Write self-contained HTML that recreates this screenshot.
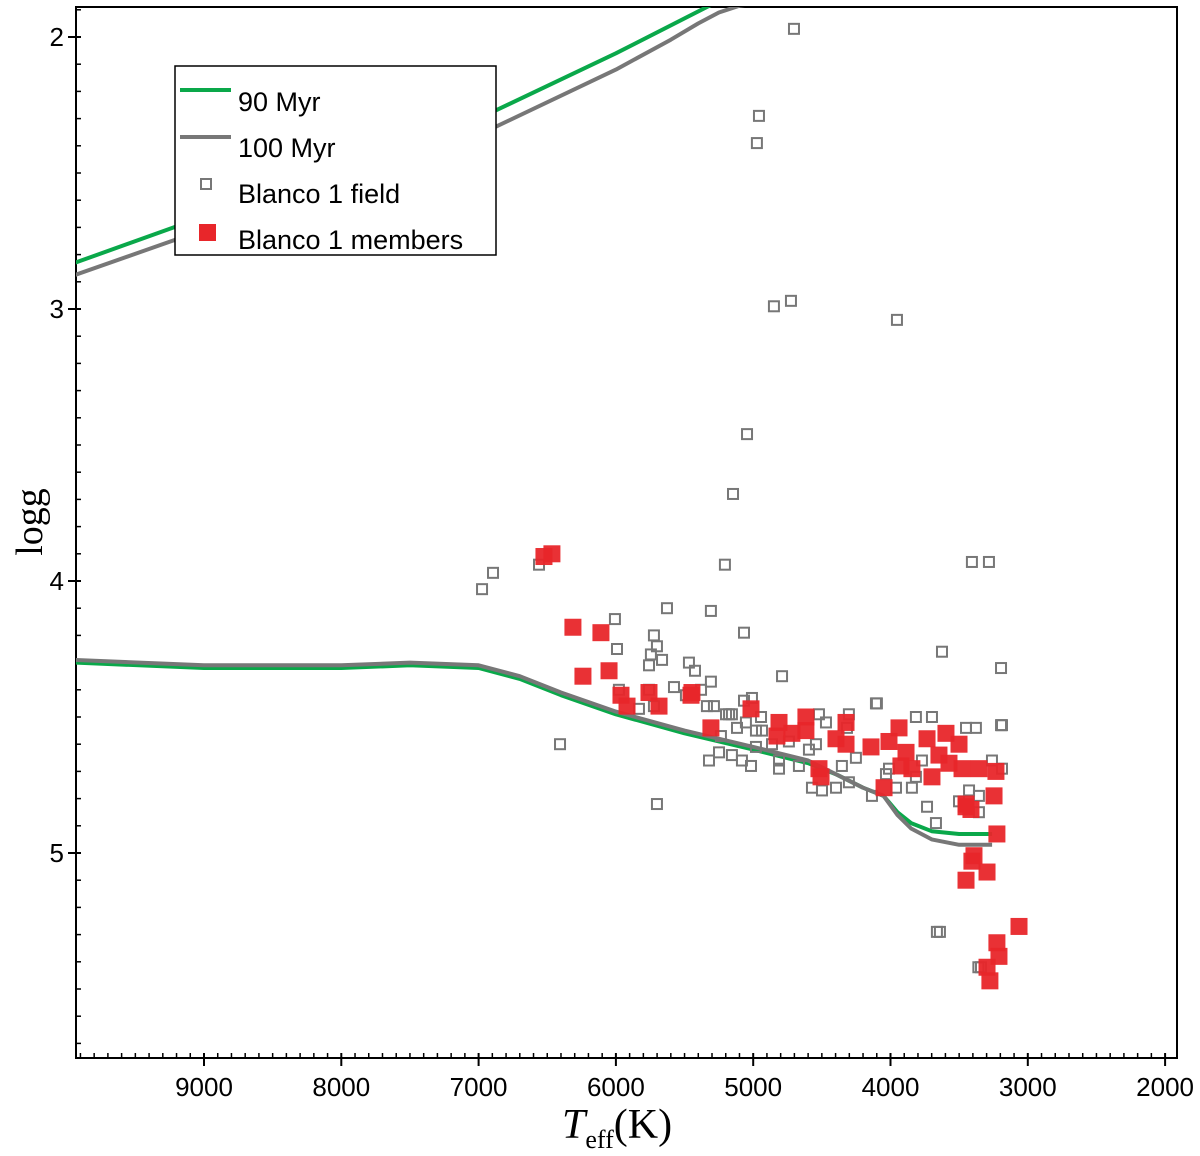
<!DOCTYPE html>
<html><head><meta charset="utf-8"><style>
html,body{margin:0;padding:0;background:#fff;}
svg{display:block;}
text{font-family:"Liberation Sans",Arial,sans-serif;}
</style></head><body>
<svg id="chart" width="1200" height="1156" viewBox="0 0 1200 1156" xmlns="http://www.w3.org/2000/svg">
<defs><clipPath id="plotclip"><rect x="76" y="7" width="1101" height="1051"/></clipPath></defs>
<rect x="76" y="7" width="1101" height="1051" fill="#fff" stroke="#000" stroke-width="2"/>
<g id="axes"></g>
<g id="curves" clip-path="url(#plotclip)"></g>
<g id="fieldpts" clip-path="url(#plotclip)"></g>
<g id="memberpts" clip-path="url(#plotclip)"></g>
<text transform="translate(42,522) rotate(-90)" text-anchor="middle" font-size="38" style="font-family:'Liberation Serif',serif">logg</text>
<text x="562" y="1138" font-size="42" style="font-family:'Liberation Serif',serif"><tspan font-style="italic">T</tspan><tspan font-size="26" dy="10">eff</tspan><tspan dy="-10">(K)</tspan></text>
<g>
<rect x="175" y="66" width="321" height="189" fill="#fff" stroke="#000" stroke-width="1.5"/>
<line x1="180" y1="90" x2="231" y2="90" stroke="#0aa84a" stroke-width="4"/>
<text x="238" y="111" font-size="27">90 Myr</text>
<line x1="180" y1="137" x2="231" y2="137" stroke="#777" stroke-width="4"/>
<text x="238" y="157" font-size="27">100 Myr</text>
<rect x="201" y="179" width="10" height="10" fill="none" stroke="#777" stroke-width="2"/>
<text x="238" y="203" font-size="27">Blanco 1 field</text>
<rect x="199" y="224" width="17" height="17" fill="#e8262a"/>
<text x="238" y="249" font-size="27">Blanco 1 members</text>
</g>
</svg>
<script>
const xTicks=[9000,8000,7000,6000,5000,4000,3000,2000];
const yTicks=[2,3,4,5];
// isochrones [Teff, logg]
const iso90Upper=[[9940,2.83],[8500,2.57],[7000,2.30],[6000,2.06],[5300,1.88],[5100,1.84]];
const iso100Upper=[[9940,2.875],[8500,2.62],[7000,2.36],[6000,2.12],[5600,2.01],[5400,1.95],[5250,1.91],[5100,1.885],[4950,1.875],[4800,1.87]];
const iso100Lower=[[9940,4.29],[9000,4.31],[8000,4.31],[7500,4.30],[7000,4.31],[6700,4.35],[6400,4.41],[6000,4.48],[5500,4.55],[5000,4.61],[4600,4.66],[4400,4.71],[4200,4.76],[4050,4.79],[3950,4.86],[3850,4.91],[3700,4.95],[3500,4.97],[3260,4.97]];
const iso90Lower=[[9940,4.30],[9000,4.32],[8000,4.32],[7500,4.31],[7000,4.32],[6700,4.36],[6400,4.42],[6000,4.49],[5500,4.56],[5000,4.62],[4600,4.67],[4400,4.71],[4200,4.76],[4050,4.79],[3950,4.85],[3850,4.89],[3700,4.92],[3500,4.93],[3260,4.93]];
const fieldT=[4703,4958,4973,4849,4725,3953,5045,5147,5206,6975,6895,6560,3407,3283,6407,5701,3662,3341,3625,3195,3195,6007,5628,5308,5067,5723,5701,5745,5759,5664,5992,5468,5424,5577,5380,5308,4790,4099,5759,5723,5832,5978,3188,5490,5337,5286,5176,5067,5009,5198,5155,5118,5053,4943,4980,4936,5249,5155,5082,5016,4980,4812,4812,4667,4863,4740,4594,4543,4521,4470,4303,4317,4572,4499,4397,4303,4354,4252,4106,4033,3960,3844,3815,3698,3450,3378,3188,3428,3501,3356,3356,3734,3669,4135,4011,3815,3771,3261,5235,5322,3640,3360];
const fieldG=[1.97,2.29,2.39,2.99,2.97,3.04,3.46,3.68,3.94,4.03,3.97,3.94,3.93,3.93,4.60,4.82,5.29,5.42,4.26,4.32,4.53,4.14,4.10,4.11,4.19,4.20,4.24,4.27,4.31,4.29,4.25,4.30,4.33,4.39,4.40,4.37,4.35,4.45,4.40,4.46,4.47,4.40,4.69,4.42,4.46,4.46,4.49,4.44,4.43,4.49,4.49,4.54,4.52,4.50,4.55,4.55,4.63,4.64,4.66,4.68,4.61,4.66,4.69,4.68,4.60,4.59,4.62,4.60,4.49,4.52,4.49,4.54,4.76,4.77,4.76,4.74,4.68,4.65,4.45,4.71,4.76,4.76,4.50,4.50,4.54,4.54,4.53,4.77,4.81,4.79,4.85,4.83,4.89,4.79,4.69,4.72,4.66,4.66,4.57,4.66,5.29,5.42];
const memberT=[5446,5016,5308,4812,4616,4827,4718,4616,4324,4397,4324,4142,4521,4506,4047,3938,4011,3887,3924,3734,3596,3501,3647,3574,3844,3698,3479,3356,3232,3246,3450,3225,3392,6524,6466,6313,6109,6240,6050,5963,5919,5759,5686,5453,3450,3414,3407,3297,3450,3064,3225,3210,3297,3276];
const memberG=[4.41,4.47,4.54,4.52,4.50,4.57,4.56,4.55,4.52,4.58,4.60,4.61,4.69,4.72,4.76,4.54,4.59,4.63,4.68,4.58,4.56,4.60,4.64,4.67,4.69,4.72,4.69,4.69,4.70,4.79,4.83,4.93,5.01,3.91,3.90,4.17,4.19,4.35,4.33,4.42,4.46,4.41,4.46,4.42,4.82,4.84,5.03,5.07,5.10,5.27,5.33,5.38,5.42,5.47];

const NS='http://www.w3.org/2000/svg';
const X0=204, XS=0.1373, Y0=37, YS=272, L=76, R=1177, T=7, B=1058;
function xs(t){return X0+(9000-t)*XS;}
function ys(g){return Y0+(g-2)*YS;}
function mk(tag,attrs,parent){const e=document.createElementNS(NS,tag);for(const k in attrs)e.setAttribute(k,attrs[k]);parent.appendChild(e);return e;}
const axes=document.getElementById('axes');
for(let t=9900;t>=2000;t-=100){
  const major=t%1000===0;const x=xs(t);
  const ln=mk('line',{x1:x,y1:major?B+8:B,x2:x,y2:B-5,stroke:'#000','stroke-width':major?2:1.5},axes);
  
  
}
xTicks.forEach(t=>{
  const tx=mk('text',{x:xs(t),y:1096,'text-anchor':'middle','font-size':26},axes);
  tx.textContent=t;
  
  
});
for(let i=19;i<=57;i++){
  const g=i/10;const major=i%10===0;const y=ys(g);
  if(y<T||y>B)continue;
  const ln=mk('line',{x1:major?L-8:L,y1:y,x2:L+5,y2:y,stroke:'#000','stroke-width':major?2:1.5},axes);
  
  
}
yTicks.forEach(g=>{
  const tx=mk('text',{x:64,y:ys(g)+9,'text-anchor':'end','font-size':26},axes);
  tx.textContent=g;
  
  
});
const curves=document.getElementById('curves');
function path(arr){return arr.map((p,i)=>(i?'L':'M')+xs(p[0]).toFixed(1)+' '+ys(p[1]).toFixed(1)).join(' ');}
const c1=mk('path',{d:path(iso100Upper),fill:'none',stroke:'#777','stroke-width':4,'stroke-linejoin':'round'},curves);


const c2=mk('path',{d:path(iso90Upper),fill:'none',stroke:'#0aa84a','stroke-width':4,'stroke-linejoin':'round'},curves);


const c3=mk('path',{d:path(iso90Lower),fill:'none',stroke:'#0aa84a','stroke-width':4,'stroke-linejoin':'round'},curves);


const c4=mk('path',{d:path(iso100Lower),fill:'none',stroke:'#777','stroke-width':4,'stroke-linejoin':'round'},curves);


const fg=document.getElementById('fieldpts');
fieldT.forEach((t,i)=>{
  const r=mk('rect',{x:xs(t)-5,y:ys(fieldG[i])-5,width:10,height:10,fill:'none',stroke:'#777','stroke-width':2},fg);
  
  
});
const mg=document.getElementById('memberpts');
memberT.forEach((t,i)=>{
  const r=mk('rect',{x:xs(t)-8.5,y:ys(memberG[i])-8.5,width:17,height:17,fill:'#e8262a','fill-opacity':0.95},mg);
  
  
});
</script>
</body></html>
